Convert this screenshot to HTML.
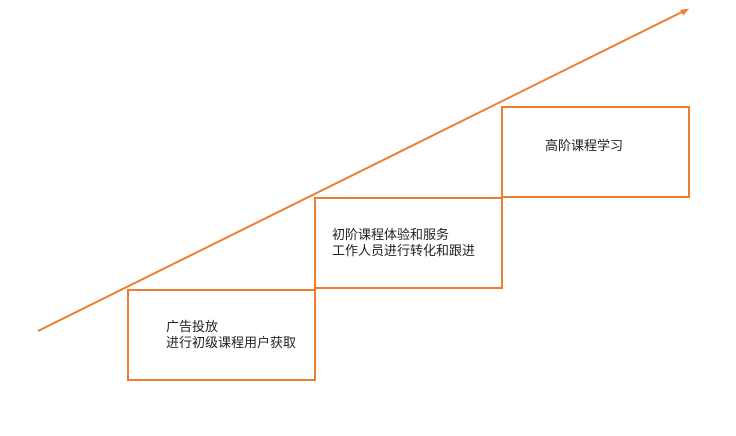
<!DOCTYPE html>
<html><head><meta charset="utf-8"><style>
body{margin:0;background:#fff;}
svg text{font-family:"Liberation Sans","Noto Sans CJK SC",sans-serif;font-size:13px;fill:#222;}
</style></head><body>
<svg width="736" height="431" xmlns="http://www.w3.org/2000/svg">
<line x1="38" y1="331" x2="684" y2="11" stroke="#ED7D31" stroke-width="2"/>
<polygon points="689,8.5 680,10 683.5,15.5" fill="#ED7D31"/>
<rect x="128" y="290" width="187" height="90" fill="#fff" stroke="#ED7D31" stroke-width="2"/>
<rect x="315" y="198" width="187" height="90" fill="#fff" stroke="#ED7D31" stroke-width="2"/>
<rect x="502" y="107" width="187" height="90" fill="#fff" stroke="#ED7D31" stroke-width="2"/>
<text x="166" y="331">广告投放</text>
<text x="166" y="347">进行初级课程用户获取</text>
<text x="332" y="239">初阶课程体验和服务</text>
<text x="332" y="255">工作人员进行转化和跟进</text>
<text x="545" y="150">高阶课程学习</text>
</svg>
</body></html>
